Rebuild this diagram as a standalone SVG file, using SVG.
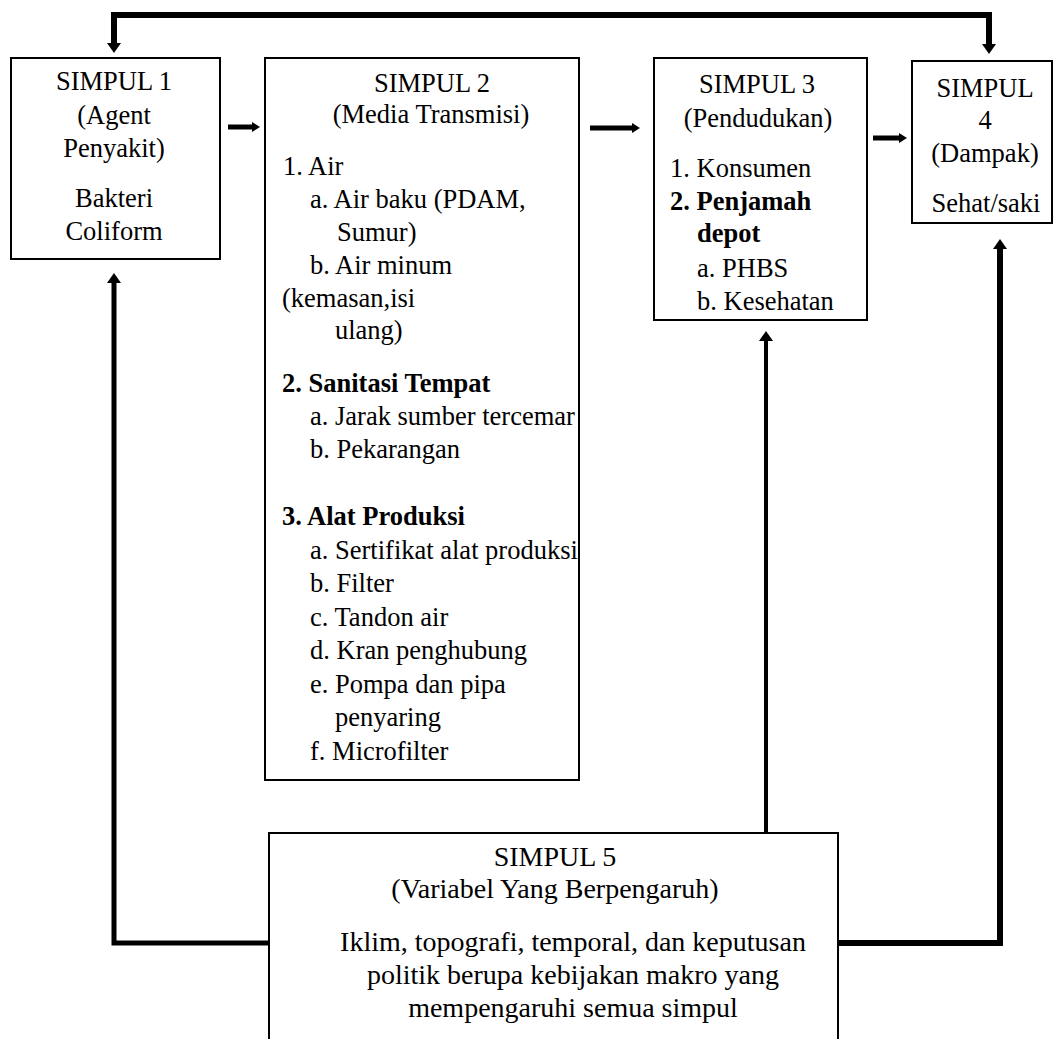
<svg xmlns="http://www.w3.org/2000/svg" width="1054" height="1039" viewBox="0 0 1054 1039">
<defs>
<style>
.box{fill:#fff;stroke:#000;stroke-width:2}
.t{font-family:"Liberation Serif","Times New Roman",serif;font-size:26.5px;fill:#000}
.s5{font-size:28px}
.c{text-anchor:middle}
.b{font-weight:bold}
.ln{fill:none;stroke:#000;stroke-linejoin:miter}
</style>
<marker id="ah" markerUnits="userSpaceOnUse" markerWidth="10" markerHeight="16" viewBox="0 0 10 16" refX="0" refY="8" orient="auto-start-reverse">
<path d="M0,1 L10,8 L0,15 z" fill="#000"/>
</marker>
<marker id="sh" markerUnits="userSpaceOnUse" markerWidth="8" markerHeight="12" viewBox="0 0 8 12" refX="0" refY="6" orient="auto">
<path d="M0,1 L8,6 L0,11 z" fill="#000"/>
</marker>
</defs>
<rect width="1054" height="1039" fill="#fff"/>

<g id="connectors">
<path class="ln" d="M114,43 V15 H989 V44" stroke-width="6" marker-start="url(#ah)" marker-end="url(#ah)"/>
<path class="ln" d="M228,127 H252" stroke-width="5" marker-end="url(#sh)"/>
<path class="ln" d="M590,128 H632" stroke-width="5" marker-end="url(#sh)"/>
<path class="ln" d="M873,138 H899" stroke-width="5" marker-end="url(#sh)"/>
<path class="ln" d="M269,943 H114 V283" stroke-width="5" marker-end="url(#ah)"/>
<path class="ln" d="M766,833 V341" stroke-width="4" marker-end="url(#ah)"/>
<path class="ln" d="M838,943 H1000 V249" stroke-width="6" marker-end="url(#ah)"/>
</g>

<g id="simpul1">
<rect class="box" x="11" y="58" width="209" height="201"/>
<text class="t c" x="114" y="90">SIMPUL 1</text>
<text class="t c" x="114" y="124">(Agent</text>
<text class="t c" x="114" y="157">Penyakit)</text>
<text class="t c" x="114" y="207">Bakteri</text>
<text class="t c" x="114" y="240">Coliform</text>
</g>

<g id="simpul2">
<rect class="box" x="265" y="58" width="314" height="722"/>
<text class="t c" x="432" y="92">SIMPUL 2</text>
<text class="t c" x="431" y="123">(Media Transmisi)</text>
<text class="t" x="283" y="175">1. Air</text>
<text class="t" x="310" y="208">a. Air baku (PDAM,</text>
<text class="t" x="337" y="241">Sumur)</text>
<text class="t" x="310" y="274">b. Air minum</text>
<text class="t" x="282" y="307">(kemasan,isi</text>
<text class="t" x="335" y="339">ulang)</text>
<text class="t b" x="282" y="392">2. Sanitasi Tempat</text>
<text class="t" x="310" y="425">a. Jarak sumber tercemar</text>
<text class="t" x="310" y="458">b. Pekarangan</text>
<text class="t b" x="282" y="525">3. Alat Produksi</text>
<text class="t" x="310" y="559">a. Sertifikat alat produksi</text>
<text class="t" x="310" y="592">b. Filter</text>
<text class="t" x="310" y="626">c. Tandon air</text>
<text class="t" x="310" y="659">d. Kran penghubung</text>
<text class="t" x="310" y="693">e. Pompa dan pipa</text>
<text class="t" x="335" y="726">penyaring</text>
<text class="t" x="310" y="760">f. Microfilter</text>
</g>

<g id="simpul3">
<rect class="box" x="654" y="58" width="213" height="262"/>
<text class="t c" x="757" y="93">SIMPUL 3</text>
<text class="t c" x="758" y="127">(Pendudukan)</text>
<text class="t" x="670" y="177">1. Konsumen</text>
<text class="t b" x="670" y="210">2. Penjamah</text>
<text class="t b" x="697" y="242">depot</text>
<text class="t" x="697" y="277">a. PHBS</text>
<text class="t" x="697" y="310">b. Kesehatan</text>
</g>

<g id="simpul4">
<rect class="box" x="912" y="61" width="140" height="162"/>
<text class="t c" x="985" y="97">SIMPUL</text>
<text class="t c" x="985" y="129">4</text>
<text class="t c" x="985" y="162">(Dampak)</text>
<text class="t c" x="986" y="212">Sehat/saki</text>
</g>

<g id="simpul5">
<rect class="box" x="269" y="833" width="569" height="220"/>
<text class="t s5 c" x="555" y="866">SIMPUL 5</text>
<text class="t s5 c" x="555" y="898">(Variabel Yang Berpengaruh)</text>
<text class="t s5 c" x="573" y="951">Iklim, topografi, temporal, dan keputusan</text>
<text class="t s5 c" x="573" y="984">politik berupa kebijakan makro yang</text>
<text class="t s5 c" x="573" y="1017">mempengaruhi semua simpul</text>
</g>
</svg>
